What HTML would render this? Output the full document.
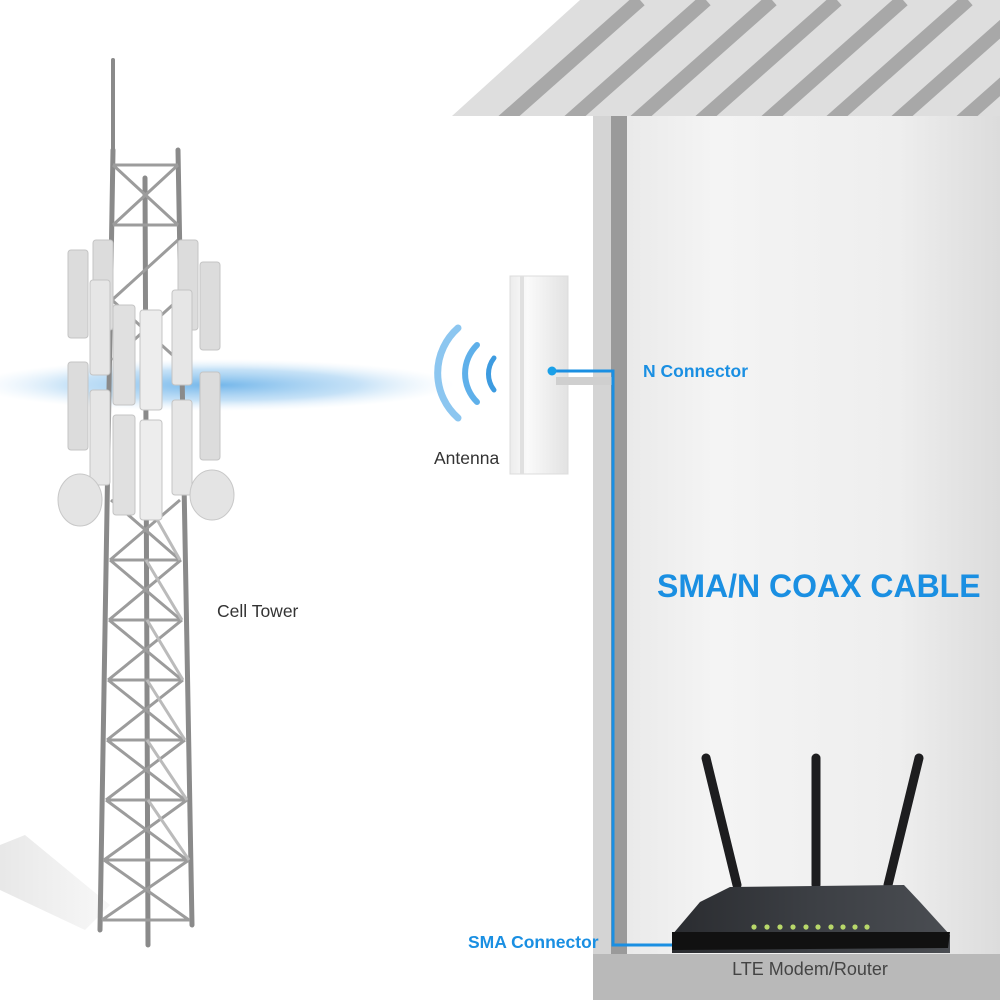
<!DOCTYPE html>
<html><head><meta charset="utf-8"><style>
html,body{margin:0;padding:0;background:#fff}
svg{display:block}
text{font-family:"Liberation Sans",Arial,sans-serif}
</style></head><body>
<svg width="1000" height="1000" viewBox="0 0 1000 1000" xmlns="http://www.w3.org/2000/svg">
<defs>
<linearGradient id="wall" x1="0" x2="1" y1="0" y2="0">
<stop offset="0" stop-color="#e6e6e6"/><stop offset="0.3" stop-color="#f4f4f4"/><stop offset="0.75" stop-color="#eeeeee"/><stop offset="1" stop-color="#dcdcdc"/>
</linearGradient>
<radialGradient id="haze" cx="0.5" cy="0.5" r="0.5">
<stop offset="0" stop-color="#5aa9e6" stop-opacity="0.85"/><stop offset="0.6" stop-color="#8cc4ef" stop-opacity="0.5"/><stop offset="1" stop-color="#cfe6f8" stop-opacity="0"/>
</radialGradient>
<linearGradient id="ant" x1="0" x2="1"><stop offset="0" stop-color="#ececec"/><stop offset="0.3" stop-color="#fafafa"/><stop offset="1" stop-color="#e2e2e2"/></linearGradient>
<linearGradient id="rt" x1="0" x2="1"><stop offset="0" stop-color="#2a2c30"/><stop offset="0.5" stop-color="#3c3f44"/><stop offset="1" stop-color="#4a4d52"/></linearGradient>
<linearGradient id="sh" x1="0" x2="1" y1="0" y2="0"><stop offset="0" stop-color="#e2e2e2"/><stop offset="1" stop-color="#f6f6f6"/></linearGradient>
<clipPath id="roofc"><polygon points="452,116 580,0 1000,0 1000,116"/></clipPath>
</defs>

<!-- shadow of tower -->
<polygon points="0,845 25,835 110,905 85,930 0,890" fill="url(#sh)" opacity="0.8"/>

<!-- roof -->
<polygon points="452,116 580,0 1000,0 1000,116" fill="#dedede"/>
<g clip-path="url(#roofc)" stroke="#a8a8a8" stroke-width="14">
<line x1="500" y1="124" x2="640" y2="0"/>
<line x1="566" y1="124" x2="706" y2="0"/>
<line x1="632" y1="124" x2="772" y2="0"/>
<line x1="697" y1="124" x2="837" y2="0"/>
<line x1="763" y1="124" x2="903" y2="0"/>
<line x1="828" y1="124" x2="968" y2="0"/>
<line x1="893" y1="124" x2="1033" y2="0"/>
<line x1="958" y1="124" x2="1098" y2="0"/>
</g>

<!-- wall -->
<rect x="593" y="116" width="407" height="838" fill="url(#wall)"/>
<rect x="593" y="116" width="18" height="838" fill="#d4d4d4"/>
<rect x="611" y="116" width="16" height="838" fill="#9a9a9a"/>
<!-- floor -->
<rect x="593" y="954" width="407" height="46" fill="#b9b9b9"/>
<text x="810" y="975" font-size="18" fill="#444" text-anchor="middle">LTE Modem/Router</text>

<!-- haze -->
<ellipse cx="215" cy="385" rx="240" ry="26" fill="url(#haze)"/>

<!-- tower -->
<g stroke="#8a8a8a" stroke-width="5" fill="none" stroke-linecap="round">
<line x1="113" y1="150" x2="100" y2="930"/>
<line x1="178" y1="150" x2="192" y2="925"/>
<line x1="145" y1="178" x2="148" y2="945"/>
<line x1="113" y1="60" x2="113" y2="150" stroke-width="4"/>
</g>
<g stroke="#9c9c9c" stroke-width="3" fill="none">
<line x1="113" y1="165" x2="178" y2="165"/>
<line x1="113" y1="165" x2="178" y2="225"/><line x1="178" y1="165" x2="113" y2="225"/>
<line x1="113" y1="225" x2="178" y2="225"/>
<path d="M112,300 L178,240 M112,300 L178,360 M112,360 L178,300"/>
<path d="M111,500 L180,560 M180,500 L110,560 M110,560 L181,620 M181,560 L109,620 M109,620 L182,680 M182,620 L108,680 M108,680 L183,740 M183,680 L107,740 M107,740 L185,800 M185,740 L106,800 M106,800 L187,860 M187,800 L104,860 M104,860 L189,920 M189,860 L102,920"/>
<path d="M110,560 H181 M109,620 H182 M108,680 H183 M107,740 H185 M106,800 H187 M104,860 H189 M102,920 H190"/>
</g>
<g stroke="#bbb" stroke-width="3" fill="none">
<path d="M146,500 L180,560 M146,560 L182,620 M147,620 L183,680 M147,680 L185,740 M147,740 L187,800 M148,800 L189,860"/>
</g>
<!-- antenna panels -->
<g fill="#dcdcdc" stroke="#c4c4c4" stroke-width="1">
<rect x="68" y="250" width="20" height="88" rx="3"/>
<rect x="93" y="240" width="20" height="90" rx="3"/>
<rect x="178" y="240" width="20" height="90" rx="3"/>
<rect x="200" y="262" width="20" height="88" rx="3"/>
<rect x="90" y="280" width="20" height="95" rx="3" fill="#e6e6e6"/>
<rect x="113" y="305" width="22" height="100" rx="3" fill="#e0e0e0"/>
<rect x="140" y="310" width="22" height="100" rx="3" fill="#ededed"/>
<rect x="172" y="290" width="20" height="95" rx="3" fill="#e6e6e6"/>
<rect x="68" y="362" width="20" height="88" rx="3"/>
<rect x="200" y="372" width="20" height="88" rx="3"/>
<rect x="90" y="390" width="20" height="95" rx="3" fill="#e6e6e6"/>
<rect x="113" y="415" width="22" height="100" rx="3" fill="#e0e0e0"/>
<rect x="140" y="420" width="22" height="100" rx="3" fill="#ededed"/>
<rect x="172" y="400" width="20" height="95" rx="3" fill="#e6e6e6"/>
</g>
<ellipse cx="80" cy="500" rx="22" ry="26" fill="#e4e4e4" stroke="#c8c8c8"/>
<ellipse cx="212" cy="495" rx="22" ry="25" fill="#e4e4e4" stroke="#c8c8c8"/>
<text x="217" y="617" font-size="17.5" fill="#333">Cell Tower</text>

<!-- waves -->
<g fill="none" stroke="#3d9be0" stroke-linecap="round">
<path d="M494,358 A26,26 0 0 0 494,390" stroke-width="5"/>
<path d="M477,345 A40,40 0 0 0 477,402" stroke-width="6" stroke="#5fb0ea"/>
<path d="M458,328 A60,60 0 0 0 458,418" stroke-width="7" stroke="#8cc6f0"/>
</g>

<!-- antenna -->
<rect x="510" y="276" width="58" height="198" fill="url(#ant)" stroke="#dcdcdc"/>
<rect x="520" y="276" width="4" height="198" fill="#e0e0e0"/>
<rect x="556" y="377" width="58" height="8" fill="#cfcfcf"/>
<text x="434" y="464" font-size="17.5" fill="#333">Antenna</text>

<!-- cable -->
<polyline points="552,371 613,371 613,945 702,945" fill="none" stroke="#1a8fe2" stroke-width="3"/>
<circle cx="552" cy="371" r="4.5" fill="#1aa0e8"/>
<circle cx="702" cy="945" r="4.5" fill="#1aa0e8"/>
<text x="643" y="377" font-size="17.5" font-weight="bold" fill="#1a8fe2">N Connector</text>
<text x="468" y="948" font-size="17.5" font-weight="bold" fill="#1a8fe2">SMA Connector</text>
<text x="657" y="597" font-size="32" font-weight="bold" fill="#1a8fe2">SMA/N COAX CABLE</text>

<!-- router -->
<g stroke="#1d1d1f" stroke-linecap="round">
<line x1="706" y1="758" x2="737" y2="885" stroke-width="9"/>
<line x1="816" y1="758" x2="816" y2="885" stroke-width="9"/>
<line x1="919" y1="758" x2="888" y2="885" stroke-width="9"/>
</g>
<polygon points="730,887 904,885 920,902 950,935 950,953 672,953 672,935 700,902" fill="url(#rt)"/>
<polygon points="672,932 950,932 948,948 672,950" fill="#111"/>
<g fill="#b8d86a">
<circle cx="754" cy="927" r="2.6"/><circle cx="767" cy="927" r="2.6"/><circle cx="780" cy="927" r="2.6"/><circle cx="793" cy="927" r="2.6"/><circle cx="806" cy="927" r="2.6"/><circle cx="818" cy="927" r="2.6"/><circle cx="831" cy="927" r="2.6"/><circle cx="843" cy="927" r="2.6"/><circle cx="855" cy="927" r="2.6"/><circle cx="867" cy="927" r="2.6"/>
</g>
</svg>
</body></html>
